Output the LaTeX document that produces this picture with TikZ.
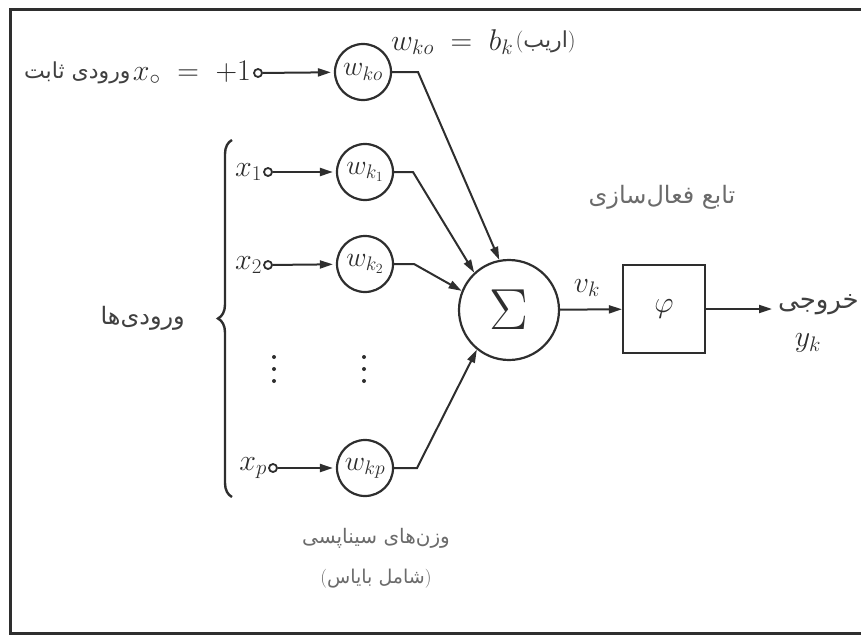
\RequirePackage{fix-cm}
\documentclass[tikz,border=0pt]{standalone}
\usepackage{fontspec}
\usetikzlibrary{arrows.meta,decorations.pathreplacing}
\TeXXeTstate=1
\newfontfamily\fa[Script=Arabic]{DejaVu Sans}
\newcommand\fatext[1]{{\fa\beginR #1\endR}}
\definecolor{ink}{gray}{0.18}
\definecolor{faink}{gray}{0.25}
\definecolor{falight}{gray}{0.42}
\begin{document}
\begin{tikzpicture}[x=1pt,y=-1pt,
  ln/.style={line width=2pt,draw=ink},
  arr/.style={ln,-{Triangle[length=13pt,width=8pt]}},
  wnode/.style={circle,draw=ink,line width=2.2pt,minimum size=56pt,inner sep=0pt,text=ink,font=\fontsize{28}{32}\selectfont},
  term/.style={circle,draw=ink,line width=1.8pt,minimum size=8pt,inner sep=0pt,fill=white},
  dotc/.style={circle,fill=ink,minimum size=4pt,inner sep=0pt},
  mtext/.style={text=ink,inner sep=1pt,font=\fontsize{30}{34}\selectfont},
  fablack/.style={text=faink,inner sep=1pt,font=\fontsize{26}{30}\selectfont},
  falabel/.style={text=falight,inner sep=1pt,font=\fontsize{20}{24}\selectfont}]
\useasboundingbox (0,0) rectangle (861,637);
% frame
\draw[line width=3pt,draw=ink] (861,9) -- (10,9) -- (10,633) -- (861,633);

% weight circles
\node[wnode] (w0) at (363,72) {$w_{ko}$};
\node[wnode] (w1) at (365,172) {$w_{k_1}$};
\node[wnode] (w2) at (365,264) {$w_{k_2}$};
\node[wnode] (wp) at (365,468) {$w_{kp}$};

% input terminals
\node[term] (t0) at (258,73) {};
\node[term] (t1) at (268,172) {};
\node[term] (t2) at (268,265) {};
\node[term] (tp) at (273,468) {};

% input labels
\node[mtext,anchor=east] (lx0) at ([xshift=-1pt]t0.west) {$x_{\circ}\;=\;+1$};
\node[fablack,anchor=east,font=\fontsize{22}{26}\selectfont] (lfix) at (lx0.west) {\fatext{ورودی ثابت}};
\node[mtext,anchor=east] (lx1) at (t1.west) {$x_1$};
\node[mtext,anchor=east] (lx2) at (t2.west) {$x_2$};
\node[mtext,anchor=east] (lxp) at (tp.west) {$x_p$};

% vertical ellipses
\node[dotc] (d1a) at (274,357) {};
\node[dotc] (d1b) at (274,369) {};
\node[dotc] (d1c) at (274,381) {};
\node[dotc] (d2a) at (364,357) {};
\node[dotc] (d2b) at (364,369) {};
\node[dotc] (d2c) at (364,381) {};

% brace
\coordinate (bb) at (232,497);
\coordinate (bt) at (232,140);
\draw[line width=2.4pt,draw=ink,decorate,decoration={brace,amplitude=14pt}] (bb) -- (bt);
\node[fablack,anchor=east,font=\fontsize{24}{28}\selectfont] (lin) at (186,318) {\fatext{ورودی^^^^200cها}};

% input arrows
\draw[arr,shorten >=3pt] (t0) -- (w0);
\draw[arr,shorten >=3pt] (t1) -- (w1);
\draw[arr,shorten >=3pt] (t2) -- (w2);
\draw[arr,shorten >=3pt] (tp) -- (wp);

% summation
\node[circle,draw=ink,line width=2.2pt,minimum size=100pt,inner sep=0pt,text=ink] (sum) at (509,310) {\fontsize{58}{60}\selectfont$\Sigma$};

\coordinate (b0) at (418,72);
\coordinate (b1) at (413,172);
\coordinate (b2) at (414,264);
\coordinate (bp) at (417,468);
\draw[arr] (w0) -- (b0) -- (sum.101);
\draw[arr] (w1) -- (b1) -- (sum.133);
\draw[arr] (w2) -- (b2) -- (sum.158);
\draw[arr] (wp) -- (bp) -- (sum.231);

% bias label
\node[mtext,anchor=west] (lb) at (390,42) {$w_{ko}\;=\;b_k$};
\node[fablack,anchor=west,font=\fontsize{22}{26}\selectfont] (lbias) at (lb.east) {(\fatext{اریب})};

% activation
\node[draw=ink,line width=2.2pt,minimum width=82pt,minimum height=88pt,text=ink,font=\fontsize{30}{34}\selectfont] (phi) at (664,309) {$\varphi$};
\coordinate (out) at (772,309);
\draw[arr] (sum) -- (phi);
\draw[arr] (phi) -- (out);
\node[mtext] (vk) at (587,288) {$v_k$};
\node[falabel,font=\fontsize{24}{28}\selectfont] (act) at (662,197) {\fatext{تابع فعال^^^^200cسازی}};
\node[fablack,anchor=east] (lout) at (860,305) {\fatext{خروجی}};
\node[mtext] (yk) at (808,343) {$y_k$};

% bottom labels
\node[falabel] (syn) at (376,538) {\fatext{وزن^^^^200cهای سیناپسی}};
\node[falabel,font=\fontsize{19}{24}\selectfont] (bias) at (376,579) {(\fatext{شامل بایاس})};
\end{tikzpicture}
\end{document}
